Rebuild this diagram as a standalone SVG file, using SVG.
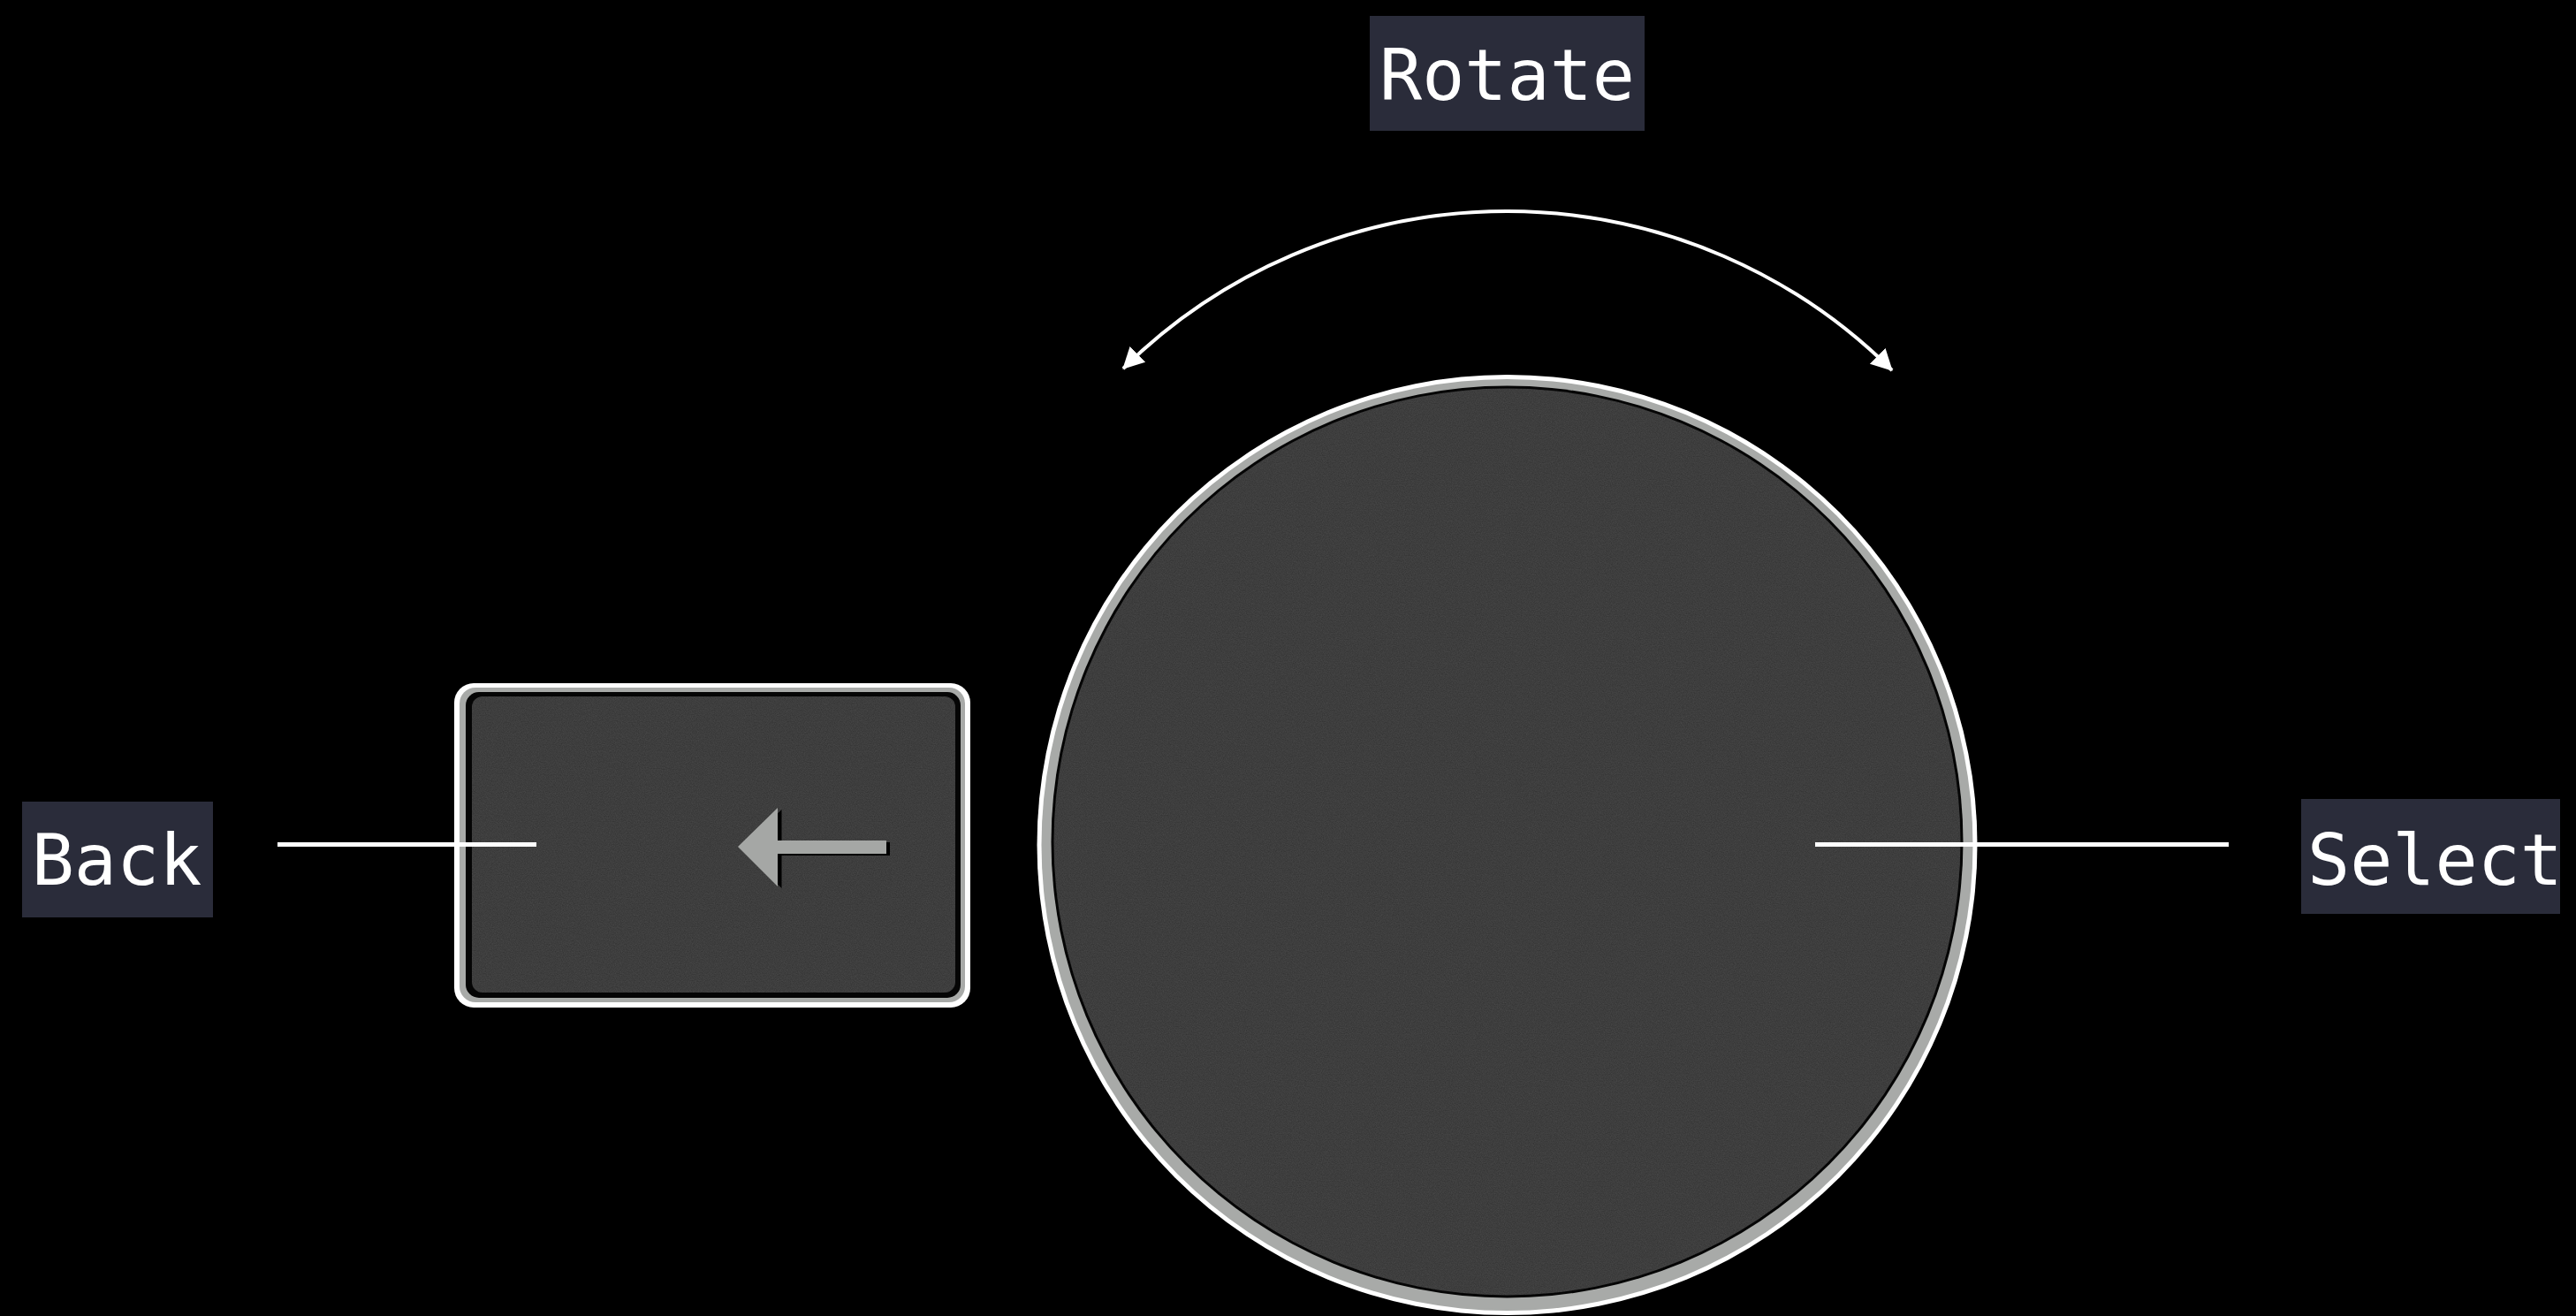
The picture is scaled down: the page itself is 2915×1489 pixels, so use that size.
<svg xmlns="http://www.w3.org/2000/svg" width="2915" height="1489" viewBox="0 0 2915 1489">
  <defs>
    <style>
      .lbl-bg { fill: #2a2c3a; }
      .lbl { font-family: "DejaVu Sans Mono", "Liberation Mono", monospace; font-size: 80px; fill: #ffffff; }
      .conn { stroke: #ffffff; stroke-width: 5; fill: none; }
      .arc { stroke: #ffffff; stroke-width: 4; fill: none; }
      .ring-white { fill: #ffffff; }
      .ring-gray { fill: #a8aaa8; }
      .ring-black { fill: #050505; }
      .face { fill: #373737; }
    </style>
    <filter id="grain" x="0" y="0" width="100%" height="100%" filterUnits="objectBoundingBox" color-interpolation-filters="sRGB">
      <feTurbulence type="fractalNoise" baseFrequency="0.85" numOctaves="2" seed="7" result="n"/>
      <feColorMatrix in="n" type="matrix" values="1 0 0 0 0  1 0 0 0 0  1 0 0 0 0  0 0 0 0 0.1" result="g"/>
      <feComposite in="g" in2="SourceAlpha" operator="in" result="gc"/>
      <feMerge>
        <feMergeNode in="SourceGraphic"/>
        <feMergeNode in="gc"/>
      </feMerge>
    </filter>
    <marker id="head" markerUnits="userSpaceOnUse" viewBox="0 0 24 25" refX="23" refY="12.5" markerWidth="24" markerHeight="25" orient="auto-start-reverse">
      <path d="M0,0 L24,12.5 L0,25 Z" fill="#ffffff"/>
    </marker>
  </defs>

  <rect x="0" y="0" width="2915" height="1489" fill="#000000"/>

  <g id="node-wheel">
    <circle class="ring-white" cx="1705.5" cy="956" r="532"/>
    <circle class="ring-gray" cx="1705.5" cy="956" r="527"/>
    <circle class="ring-black" cx="1705.5" cy="952.5" r="516"/>
    <circle class="face" cx="1705.5" cy="952.5" r="513" filter="url(#grain)"/>
  </g>

  <g id="node-back-button">
    <rect class="ring-white" x="514" y="773" width="584" height="367" rx="22"/>
    <rect class="ring-gray" x="520" y="778" width="572" height="356" rx="18"/>
    <rect class="ring-black" x="527" y="783" width="560" height="346" rx="15"/>
    <rect class="face" x="534" y="788" width="547" height="335" rx="12" filter="url(#grain)"/>
    <path d="M839.5,960 L884.5,916 L884.5,953 L1007,953 L1007,968 L884.5,968 L884.5,1005 Z" fill="#000000"/>
    <path d="M835,958 L880,914 L880,951 L1003,951 L1003,966 L880,966 L880,1003 Z" fill="#a5a7a5"/>
  </g>

  <g id="connectors">
    <path class="arc" d="M1271,417 A618,618 0 0 1 2141,419" marker-start="url(#head)" marker-end="url(#head)"/>
    <line class="conn" x1="314" y1="955.5" x2="607" y2="955.5"/>
    <line class="conn" x1="2054" y1="955.5" x2="2522" y2="955.5"/>
  </g>

  <g id="label-rotate">
    <rect class="lbl-bg" x="1550" y="18" width="311" height="130"/>
    <text class="lbl" x="1705.5" y="113" text-anchor="middle">Rotate</text>
  </g>

  <g id="label-back">
    <rect class="lbl-bg" x="25" y="907" width="216" height="131"/>
    <text class="lbl" x="132" y="1001" text-anchor="middle">Back</text>
  </g>

  <g id="label-select">
    <rect class="lbl-bg" x="2604" y="904" width="293" height="130"/>
    <text class="lbl" x="2611" y="1001">Select</text>
  </g>
</svg>
